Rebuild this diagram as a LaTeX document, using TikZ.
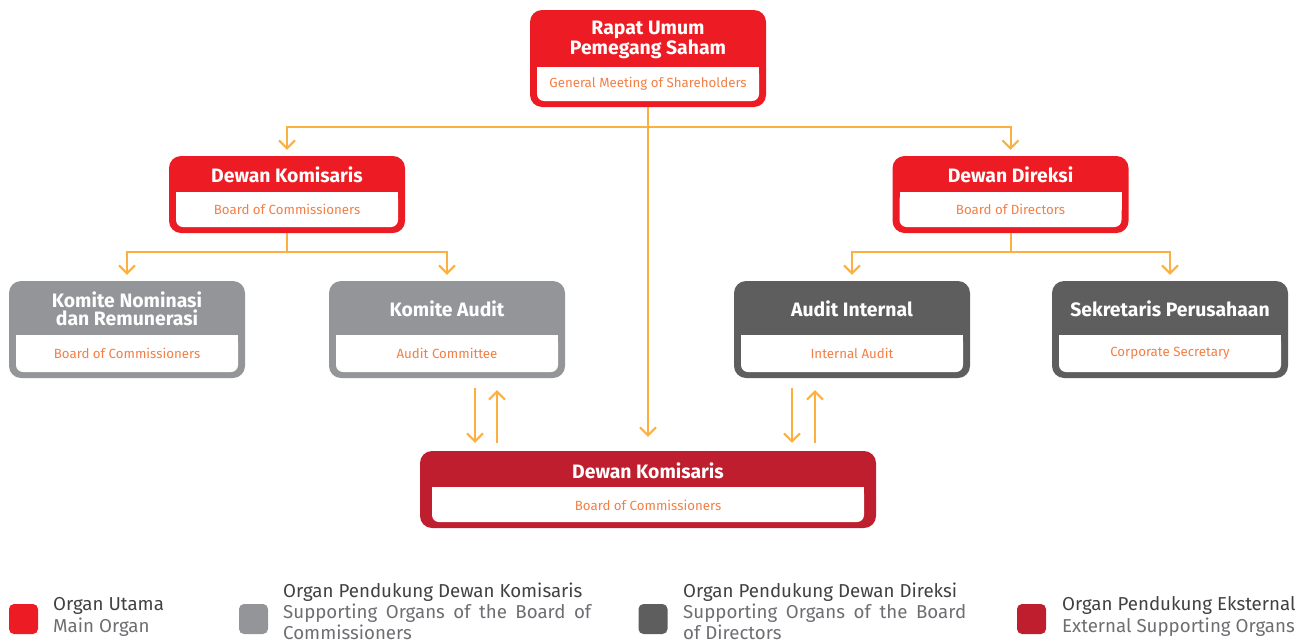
\documentclass[tikz,border=0pt]{standalone}
\usepackage{fontspec}
\setmainfont{Fira Sans}
\usetikzlibrary{arrows.meta,calc}
\definecolor{cred}{HTML}{ED1C24}
\definecolor{cgray}{HTML}{939598}
\definecolor{cdark}{HTML}{5E5E5E}
\definecolor{cdred}{HTML}{BE1E2D}
\definecolor{corange}{HTML}{FBB040}
\definecolor{csub}{HTML}{F47F45}
\definecolor{ctxt}{HTML}{414042}
\definecolor{ctxtb}{HTML}{6D6E71}
\newcommand\innerwhite[4]{%
  \fill[white, rounded corners=7] (#1,#3) rectangle (#2,#4);
  \fill[white] (#1,#3) rectangle (#2,{(#3+#4)/2});}
\begin{document}
\begin{tikzpicture}[x=1pt,y=-1pt,
  obox/.style={rounded corners=12, inner sep=0, minimum width=236, minimum height=97},
  ttl/.style={text=white, font=\fontsize{19.4}{18.5}\selectfont\bfseries, align=center, inner sep=0},
  sub/.style={text=csub, font=\fontsize{13.3}{15}\selectfont, inner sep=0},
  conn/.style={draw=corange, line width=2pt, -{Straight Barb[length=8pt,width=16pt]}, shorten >=6pt},
  legsq/.style={rounded corners=5, minimum width=29, minimum height=30, inner sep=0},
  lega/.style={anchor=base west, inner sep=0, text=ctxt, font=\fontsize{18.7}{22}\selectfont},
  legb/.style={anchor=base west, inner sep=0, text=ctxtb, font=\fontsize{18.7}{22}\selectfont}]
\useasboundingbox (0,0) rectangle (1313,643);

% boxes
\node[obox, fill=cred] (rups) at (648,58.5) {};
\innerwhite{537}{759}{67}{101}
\node[ttl] (rupsT) at (648,40) {Rapat Umum\\Pemegang Saham};
\node[sub] (rupsS) at (648,84) {General Meeting of Shareholders};

\node[obox, fill=cred, minimum height=77] (dk) at (287,194.5) {};
\innerwhite{176}{398}{192}{227}
\node[ttl] (dkT) at (287,175) {Dewan Komisaris};
\node[sub] (dkS) at (287,209.5) {Board of Commissioners};

\node[obox, fill=cred, minimum height=77] (dd) at (1010.5,194.5) {};
\innerwhite{899.5}{1121.5}{192}{227}
\node[ttl] (ddT) at (1010.5,175) {Dewan Direksi};
\node[sub] (ddS) at (1010.5,209.5) {Board of Directors};

\node[obox, fill=cgray] (kn) at (127,329.5) {};
\innerwhite{16}{238}{335}{372}
\node[ttl] (knT) at (127,309) {Komite Nominasi\\dan Remunerasi};
\node[sub] (knS) at (127,353.5) {Board of Commissioners};

\node[obox, fill=cgray] (ka) at (447,329.5) {};
\innerwhite{336}{558}{335}{372}
\node[ttl] (kaT) at (447,309) {Komite Audit};
\node[sub] (kaS) at (447,353.5) {Audit Committee};

\node[obox, fill=cdark] (ai) at (852,329.5) {};
\innerwhite{741}{963}{335}{372}
\node[ttl] (aiT) at (852,309) {Audit Internal};
\node[sub] (aiS) at (852,353.5) {Internal Audit};

\node[obox, fill=cdark] (sp) at (1170,329.5) {};
\innerwhite{1059}{1281}{335}{372}
\node[ttl] (spT) at (1170,309) {Sekretaris Perusahaan};
\node[sub] (spS) at (1170,353.5) {Corporate Secretary};

\node[obox, fill=cdred, minimum width=456, minimum height=77] (dk2) at (648,489.5) {};
\innerwhite{432}{864}{487}{522}
\node[ttl] (dk2T) at (648,471) {Dewan Komisaris};
\node[sub] (dk2S) at (648,505) {Board of Commissioners};

% connectors
\draw[conn] (rups.south) -- ++(0,20) -| (dk.north);
\draw[conn] (rups.south) -- ++(0,20) -| (dd.north);
\draw[conn, shorten >=14pt] (rups.south) -- (dk2.north);
\draw[conn] (dk.south) -- ++(0,19) -| (kn.north);
\draw[conn] (dk.south) -- ++(0,19) -| (ka.north);
\draw[conn] (dd.south) -- ++(0,19) -| (ai.north);
\draw[conn] (dd.south) -- ++(0,19) -| (sp.north);

\coordinate (kaD) at ($(ka.south)+(28,0)$);
\coordinate (kaU) at ($(ka.south)+(50,0)$);
\coordinate (aiD) at ($(ai.south)+(-60,0)$);
\coordinate (aiU) at ($(ai.south)+(-37,0)$);
\draw[conn, shorten <=10pt, shorten >=8pt] (kaD) -- (kaD |- dk2.north);
\draw[conn, shorten <=8pt, shorten >=12pt] (kaU |- dk2.north) -- (kaU);
\draw[conn, shorten <=10pt, shorten >=8pt] (aiD) -- (aiD |- dk2.north);
\draw[conn, shorten <=8pt, shorten >=12pt] (aiU |- dk2.north) -- (aiU);

% legend
\node[legsq, fill=cred] (leg1) at (23.5,619) {};
\node[lega] (l1a) at (53,610) {Organ Utama};
\node[legb] (l1b) at (53,632) {Main Organ};

\node[legsq, fill=cgray] (leg2) at (253.5,619) {};
\node[lega] (l2a) at (283,597) {Organ Pendukung Dewan Komisaris};
\node[legb] (l2b) at (283,618.5) {\makebox[308pt][s]{Supporting Organs of the Board of}};
\node[legb] (l2c) at (283,639) {Commissioners};

\node[legsq, fill=cdark] (leg3) at (653,619) {};
\node[lega] (l3a) at (683,597) {Organ Pendukung Dewan Direksi};
\node[legb] (l3b) at (683,618.5) {\makebox[283pt][s]{Supporting Organs of the Board}};
\node[legb] (l3c) at (683,639) {of Directors};

\node[legsq, fill=cdred] (leg4) at (1031.5,619) {};
\node[lega] (l4a) at (1062,610) {Organ Pendukung Eksternal};
\node[legb] (l4b) at (1062,632) {External Supporting Organs};
\end{tikzpicture}
\end{document}
